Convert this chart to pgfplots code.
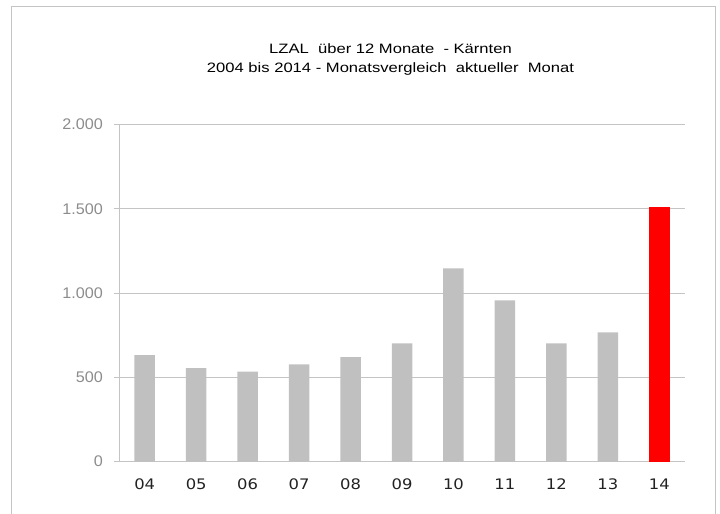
\documentclass[border=0pt]{standalone}
\usepackage{fontspec}
\setmainfont{Liberation Sans}
\newfontfamily\titlefont{Liberation Sans}[FakeStretch=1.22]
\newfontfamily\yfont{Liberation Sans}[FakeStretch=1.05]
\newfontfamily\xfont{DejaVu Sans}[FakeStretch=1.13]
\usepackage{pgfplots}
\pgfplotsset{compat=1.18}
\definecolor{barg}{HTML}{C0C0C0}
\definecolor{gridg}{HTML}{C4C4C4}
\definecolor{ylab}{HTML}{8C8C8C}
\definecolor{xlab}{HTML}{222222}
\begin{document}
\begin{tikzpicture}[x=1bp,y=1bp]
\useasboundingbox (0,0) rectangle (720,514);
\draw[color=gridg, line width=1bp] (11,-2) -- (11,507) -- (715,507) -- (715,-2);
\node[font=\titlefont\fontsize{13.6bp}{19bp}\selectfont, anchor=base, inner sep=0pt] at (390.5,460) {LZAL\ \ über 12 Monate\ \ - Kärnten};
\node[font=\titlefont\fontsize{13.6bp}{19bp}\selectfont, anchor=base, inner sep=0pt] at (390.5,441) {2004 bis 2014 - Monatsvergleich\ \ aktueller\ \ Monat};
\begin{axis}[
  at={(119bp,52.3bp)}, anchor=south west,
  scale only axis, width=566bp, height=337bp,
  xmin=-0.5, xmax=10.5, ymin=0, ymax=2000,
  ybar, bar width=20.5bp, /pgf/bar shift=0pt,
  axis lines*=left,
  axis line style={color=gridg, line width=1bp},
  ymajorgrids, grid style={color=gridg, line width=1bp},
  xtick={0,...,10},
  xticklabels={04,05,06,07,08,09,10,11,12,13,14},
  ytick={0,500,1000,1500,2000},
  yticklabels={0,500,1.000,1.500,2.000},
  tick align=outside, major tick length=5.5bp,
  ytick style={color=gridg, line width=1bp},
  xtick style={draw=none},
  xticklabel style={font=\xfont\fontsize{14.5bp}{14.5bp}\selectfont, text=xlab, inner sep=0pt, anchor=north, yshift=-11.3bp},
  yticklabel style={font=\yfont\fontsize{15.4bp}{15.4bp}\selectfont, text=ylab, inner sep=0pt, anchor=east, xshift=-10.5bp},
  /pgf/number format/assume math mode=true,
  clip=false,
]
\addplot[fill=barg, draw=none] coordinates {(0,632) (1,556) (2,534) (3,578) (4,621) (5,702) (6,1147) (7,958) (8,702) (9,767)};
\addplot[fill=red, draw=none] coordinates {(10,1510)};
\end{axis}
\end{tikzpicture}
\end{document}
